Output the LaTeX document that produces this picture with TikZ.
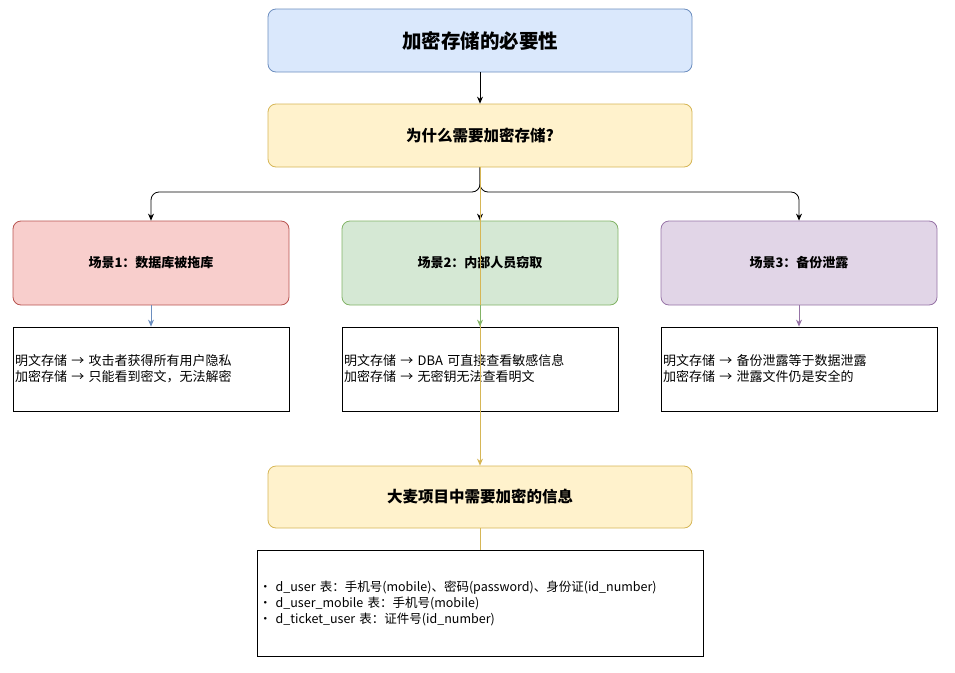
\documentclass[tikz,border=0pt]{standalone}
\usepackage{fontspec}
\setmainfont{Noto Sans CJK SC}
\usetikzlibrary{arrows.meta}
\definecolor{bF}{HTML}{DAE8FC}\definecolor{bS}{HTML}{6C8EBF}
\definecolor{yF}{HTML}{FFF2CC}\definecolor{yS}{HTML}{D6B656}
\definecolor{rF}{HTML}{F8CECC}\definecolor{rS}{HTML}{B85450}
\definecolor{gF}{HTML}{D5E8D4}\definecolor{gS}{HTML}{82B366}
\definecolor{pF}{HTML}{E1D5E7}\definecolor{pS}{HTML}{9673A6}
\begin{document}
\begin{tikzpicture}[x=1pt,y=-1pt,
 box/.style={draw,rounded corners=8pt,line width=0.8pt,minimum width=276pt,minimum height=84pt,font=\bfseries\fontsize{13}{16}\selectfont},
 wide/.style={box,minimum width=424pt,minimum height=63pt},
 txt/.style={draw=black,line width=0.8pt,minimum width=276pt,minimum height=84pt,text width=272pt,align=left,inner sep=1pt,font=\fontsize{13}{16}\selectfont},
 arr/.style={-{Stealth[length=7pt,width=6pt]},line width=0.8pt}]
\useasboundingbox (0,0) rectangle (955,672);
\node[wide,fill=bF,draw=bS,font=\bfseries\fontsize{19.5}{23}\selectfont] (top) at (480,40.5) {加密存储的必要性};
\node[wide,fill=yF,draw=yS,font=\bfseries\fontsize{15.5}{18}\selectfont] (q) at (480,135.5) {为什么需要加密存储?};
\node[box,fill=rF,draw=rS] (s1) at (151,263) {场景1：数据库被拖库};
\node[box,fill=gF,draw=gS] (s2) at (480,263) {场景2：内部人员窃取};
\node[box,fill=pF,draw=pS] (s3) at (799,263) {场景3：备份泄露};
\node[txt] (t1) at (151,369) {明文存储 → 攻击者获得所有用户隐私\\加密存储 → 只能看到密文，无法解密};
\node[txt] (t2) at (480,369) {明文存储 → DBA 可直接查看敏感信息\\加密存储 → 无密钥无法查看明文};
\node[txt] (t3) at (799,369) {明文存储 → 备份泄露等于数据泄露\\加密存储 → 泄露文件仍是安全的};
\node[wide,fill=yF,draw=yS,minimum height=62pt,font=\bfseries\fontsize{15.5}{18}\selectfont] (info) at (480,497) {大麦项目中需要加密的信息};
\node[draw=black,line width=0.8pt,minimum width=446pt,minimum height=106pt,text width=442pt,align=left,inner sep=1pt,font=\fontsize{12.5}{16}\selectfont] (list) at (480,603)
{• d\_user 表：手机号(mobile)、密码(password)、身份证(id\_number)\\• d\_user\_mobile 表：手机号(mobile)\\• d\_ticket\_user 表：证件号(id\_number)};
\draw[arr] (top) -- (q);
\draw[arr,rounded corners=8pt] (q.south) -- (480,192) -- (151,192) -- (s1.north);
\draw[arr,rounded corners=8pt] (q.south) -- (480,192) -- (799,192) -- (s3.north);
\draw[arr] (q.south) -- (s2.north);
\draw[arr,draw=yS,fill=yS] (q.south) -- (info.north);
\draw[arr,draw=bS,fill=bS] (s1) -- (t1);
\draw[arr,draw=gS,fill=gS] (s2) -- (t2);
\draw[arr,draw=pS,fill=pS] (s3) -- (t3);
\draw[yS,line width=0.8pt] (info) -- (list);
\end{tikzpicture}
\end{document}
